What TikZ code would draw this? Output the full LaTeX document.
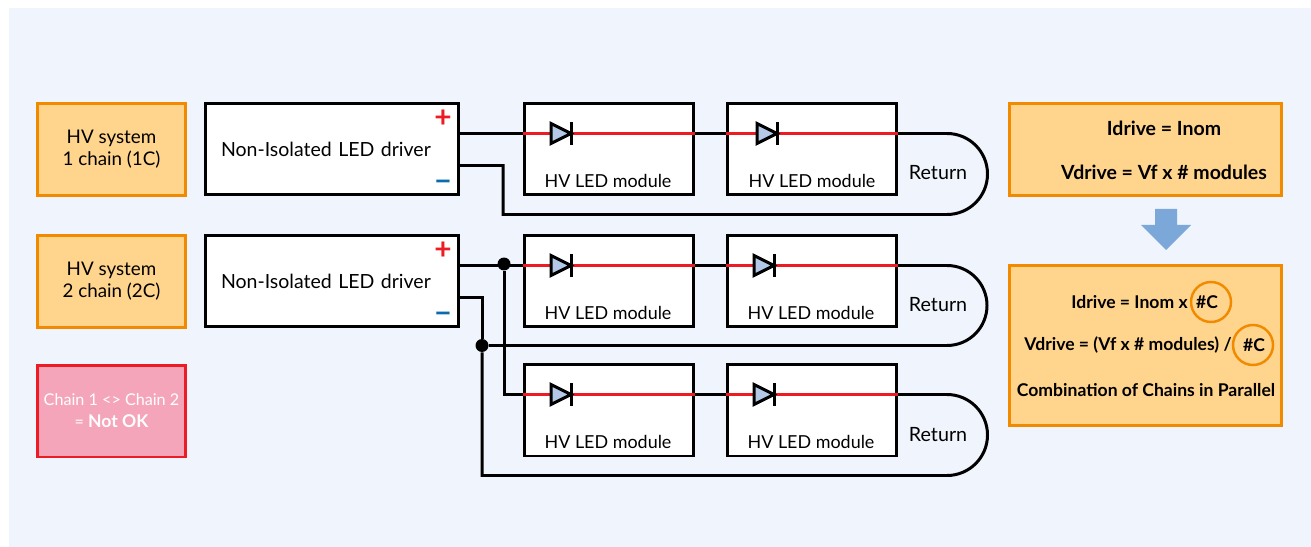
\documentclass[tikz,border=0pt]{standalone}
\usepackage{fontspec}
\setmainfont{Lato}
\usepackage{xcolor}
\usetikzlibrary{calc,positioning}
\definecolor{panelbg}{HTML}{F0F4FC}
\definecolor{orangefill}{HTML}{FFD48C}
\definecolor{orangeline}{HTML}{F28A00}
\definecolor{pinkfill}{HTML}{F5A5BA}
\definecolor{alertred}{HTML}{ED1C24}
\definecolor{minusblue}{HTML}{0B6CAD}
\definecolor{diodeblue}{HTML}{B4C9E8}
\definecolor{arrowblue}{HTML}{7BA7D9}
\tikzset{%
	sysbox/.style    = {draw=orangeline, fill=orangefill, line width=1.7pt, minimum width=2.98cm, minimum height=1.84cm, align=center, font=\fontsize{10.7}{12.5}\selectfont},
	notebox/.style   = {draw=alertred, fill=pinkfill, line width=1.7pt, minimum width=2.98cm, minimum height=1.84cm, inner xsep=0pt, align=center, text=white, font=\fontsize{9.2}{12.5}\selectfont},
	driverbox/.style = {draw, fill=white, line width=1.7pt, minimum height=1.84cm, text width=4.44cm, inner xsep=0.32cm, align=left, font=\fontsize{11.1}{12.5}\selectfont},
	modulebox/.style = {draw, fill=white, line width=1.7pt, minimum width=3.39cm, minimum height=1.84cm},
	calcbox/.style   = {draw=orangeline, fill=orangefill, line width=1.7pt, minimum width=5.46cm},
	modtext/.style   = {font=\fontsize{10.2}{12}\selectfont},
	rettext/.style   = {font=\fontsize{11.2}{12}\selectfont},
	calctext/.style  = {font=\fontsize{10}{12}\selectfont\bfseries},
	bigcalc/.style   = {font=\fontsize{11.1}{12}\selectfont\bfseries},
	wire/.style      = {line width=1.7pt},
	redwire/.style   = {line width=1.7pt, draw=alertred},
	junction/.style  = {circle, fill=black, inner sep=0pt, minimum size=0.26cm},
	ringed/.style    = {circle, draw=orangeline, line width=1.4pt, minimum size=0.8cm, inner sep=0pt},
	sign/.style      = {font=\fontsize{17}{17}\selectfont\bfseries},
	diode/.pic       = {
		\draw[line width=1.7pt, fill=diodeblue, line join=miter] (-20,-10) -- (-20,10) -- (0,0) -- cycle;
		\draw[line width=1.7pt] (0,-11.5) -- (0,11.5);
	},
}
\begin{document}
\begin{tikzpicture}[x=0.02cm,y=-0.02cm]
	\useasboundingbox (0,0) rectangle (1311,547);
	\fill[panelbg] (9,8) rectangle (1311,547);
	% left column
	\node[sysbox] (sysA) at (111.5,149.5) {HV system\\1 chain (1C)};
	\node[sysbox] (sysB) at (111.5,281.5) {HV system\\2 chain (2C)};
	\node[notebox] (note) at (111.5,411) {Chain 1 <> Chain 2\\= {\fontsize{10}{12.5}\selectfont\textbf{Not OK}}};
	% drivers
	\node[driverbox] (drvA) at (332,149) {Non-Isolated LED driver};
	\node[driverbox] (drvB) at (332,281) {Non-Isolated LED driver};
	\node[sign,text=alertred] (plusA) at (443,119) {+};
	\node[sign,text=minusblue] (minusA) at (443,186) {\textminus};
	\node[sign,text=alertred] (plusB) at (443,251) {+};
	\node[sign,text=minusblue] (minusB) at (443,318) {\textminus};
	% modules
	\node[modulebox] (modA) at (609,149) {};
	\node[modulebox] (modB) at (812,149) {};
	\node[modulebox] (modC) at (609,281) {};
	\node[modulebox] (modD) at (812,281) {};
	\node[modulebox] (modE) at (609,410) {};
	\node[modulebox] (modF) at (812,410) {};
	\coordinate (railA) at (0,133.5);
	\coordinate (railB) at (0,265.5);
	\coordinate (railC) at (0,394.5);
	% first chain
	\draw[wire] (drvA.east |- railA) -- (modA.west |- railA);
	\draw[wire] (modA.east |- railA) -- (modB.west |- railA);
	\draw[redwire] (modA.west |- railA) -- (modA.east |- railA);
	\draw[redwire] (modB.west |- railA) -- (modB.east |- railA);
	\draw[wire] (modB.east |- railA) -- (947,133.5) arc[start angle=-90,end angle=90,radius=40.5] -- (503,214.5) -- (503,165.5) -- (459,165.5);
	% second chain
	\node[junction] (dotP) at (504,264) {};
	\node[junction] (dotN) at (482,345.5) {};
	\draw[wire] (drvB.east |- railB) -- (modC.west |- railB);
	\draw[wire] (modC.east |- railB) -- (modD.west |- railB);
	\draw[redwire] (modC.west |- railB) -- (modC.east |- railB);
	\draw[redwire] (modD.west |- railB) -- (modD.east |- railB);
	\draw[wire] (modD.east |- railB) -- (947,265.5) arc[start angle=-90,end angle=90,radius=40] -- (dotN);
	% third chain
	\draw[wire] (dotP) -- (dotP |- railC) -- (modE.west |- railC);
	\draw[wire] (modE.east |- railC) -- (modF.west |- railC);
	\draw[redwire] (modE.west |- railC) -- (modE.east |- railC);
	\draw[redwire] (modF.west |- railC) -- (modF.east |- railC);
	\draw[wire] (modF.east |- railC) -- (947,394.5) arc[start angle=-90,end angle=90,radius=40.5] -- (482,475.5) -- (dotN);
	\draw[wire] (459,297.5) -- (482,297.5) -- (dotN);
	% diodes
	\path (571,133.5) pic {diode};
	\path (777,133.5) pic {diode};
	\path (571,265.5) pic {diode};
	\path (774,265.5) pic {diode};
	\path (571,394.5) pic {diode};
	\path (774,394.5) pic {diode};
	% labels
	\node[modtext] (labA) at (608,181) {HV LED module};
	\node[modtext] (labB) at (812,181) {HV LED module};
	\node[modtext] (labC) at (608,313) {HV LED module};
	\node[modtext] (labD) at (811,313) {HV LED module};
	\node[modtext] (labE) at (608,442) {HV LED module};
	\node[modtext] (labF) at (811,442) {HV LED module};
	\node[rettext] (retA) at (938,173) {Return};
	\node[rettext] (retB) at (938,305) {Return};
	\node[rettext] (retC) at (938,435) {Return};
	% right column
	\node[calcbox, minimum height=1.86cm] (calcA) at (1145.5,149.5) {};
	\node[calcbox, minimum height=3.22cm] (calcB) at (1145.5,345.5) {};
	\node[bigcalc] (idrA) at (1164,128) {Idrive = Inom};
	\node[bigcalc] (vdrA) at (1164,172) {Vdrive = Vf x \# modules};
	\fill[arrowblue] (1155,209) -- (1177,209) -- (1177,225) -- (1191,225) -- (1166,250) -- (1141,225) -- (1155,225) -- cycle;
	\node[calctext] (idrB) at (1129.5,302) {Idrive = Inom x};
	\node[ringed] (ringA) at (1211,302) {};
	\node[calctext] (numA) at (1207,302) {\#C};
	\node[calctext] (vdrB) at (1128,345) {Vdrive = (Vf x \# modules) /};
	\node[ringed] (ringB) at (1253,345) {};
	\node[calctext] (numB) at (1254,345) {\#C};
	\node[calctext] (comb) at (1146,390) {Combination of Chains in Parallel};
\end{tikzpicture}
\end{document}
